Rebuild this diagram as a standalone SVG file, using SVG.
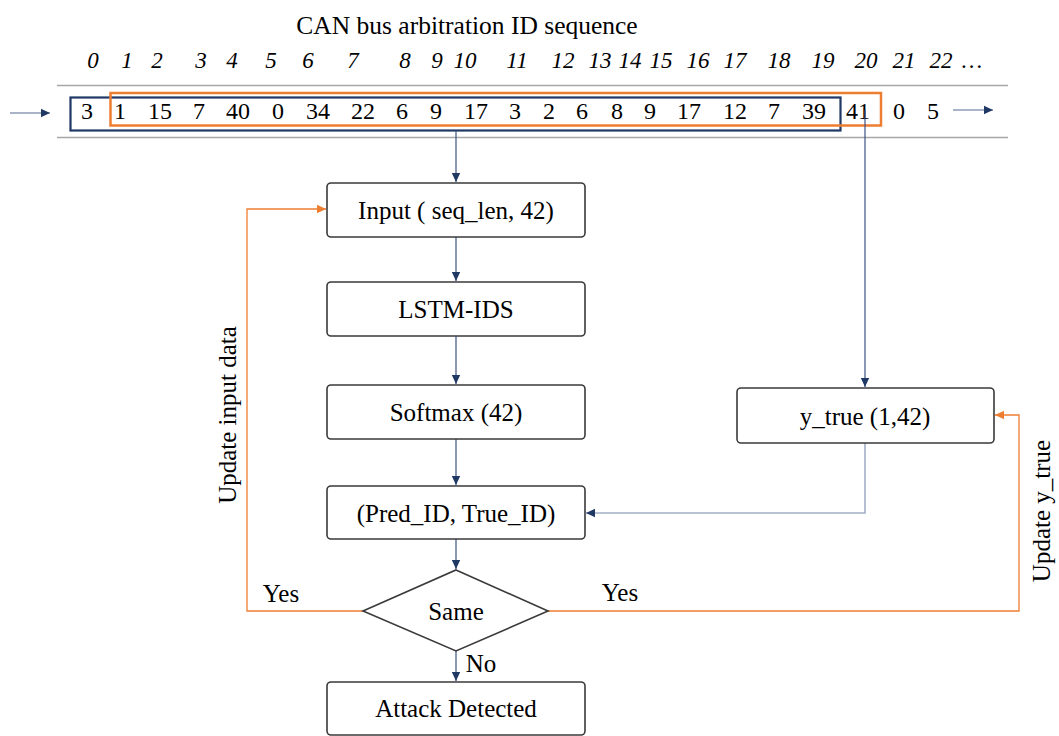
<svg xmlns="http://www.w3.org/2000/svg" width="1059" height="736" viewBox="0 0 1059 736">
<style>
text{font-family:"Liberation Serif","Times New Roman",serif;fill:#000}
.idx{font-size:23px;font-style:italic;text-anchor:middle}
.num{font-size:24px;text-anchor:middle}
.lbl{font-size:25px;text-anchor:middle}
.box{fill:#fff;stroke:#3a3a3a;stroke-width:1.6}
.nav{stroke:#3b5383;stroke-width:1.2;fill:none}
.org{stroke:#ed7d31;stroke-width:1.3;fill:none}
</style>
<defs>
<marker id="an" markerWidth="10" markerHeight="10" refX="9" refY="5" orient="auto" markerUnits="userSpaceOnUse"><path d="M0,0.8 L9,5 L0,9.2 Z" fill="#1f3864"/></marker>
<marker id="ao" markerWidth="10" markerHeight="10" refX="9" refY="5" orient="auto" markerUnits="userSpaceOnUse"><path d="M0,0.8 L9,5 L0,9.2 Z" fill="#ed7d31"/></marker>
</defs>
<rect width="1059" height="736" fill="#fff"/>
<g id="sequence">
<text x="467" y="34" font-size="25.5" text-anchor="middle">CAN bus arbitration ID sequence</text>
<g class="idx">
<text x="93" y="68">0</text><text x="127" y="68">1</text><text x="157" y="68">2</text><text x="201" y="68">3</text><text x="232" y="68">4</text><text x="271" y="68">5</text><text x="308" y="68">6</text><text x="353" y="68">7</text><text x="405" y="68">8</text><text x="437" y="68">9</text><text x="465" y="68">10</text><text x="517" y="68">11</text><text x="563" y="68">12</text><text x="600" y="68">13</text><text x="630" y="68">14</text><text x="661" y="68">15</text><text x="698" y="68">16</text><text x="735" y="68">17</text><text x="779" y="68">18</text><text x="823" y="68">19</text><text x="866" y="68">20</text><text x="904" y="68">21</text><text x="941" y="68">22</text><text x="972" y="68">…</text>
</g>
<line x1="57" y1="85.5" x2="1008" y2="85.5" stroke="#a6a6a6" stroke-width="1.5"/>
<line x1="57" y1="137.5" x2="1008" y2="137.5" stroke="#a6a6a6" stroke-width="1.5"/>
<rect x="70.5" y="97.5" width="770" height="33" fill="none" stroke="#1f3864" stroke-width="2.2"/>
<rect x="110.5" y="93" width="770.5" height="32.5" fill="none" stroke="#ed7d31" stroke-width="2.5"/>
<g class="num">
<text x="87" y="119">3</text><text x="120" y="119">1</text><text x="160" y="119">15</text><text x="199" y="119">7</text><text x="238" y="119">40</text><text x="278" y="119">0</text><text x="318" y="119">34</text><text x="363" y="119">22</text><text x="402" y="119">6</text><text x="436" y="119">9</text><text x="476" y="119">17</text><text x="515" y="119">3</text><text x="549" y="119">2</text><text x="582" y="119">6</text><text x="617" y="119">8</text><text x="650" y="119">9</text><text x="689" y="119">17</text><text x="735" y="119">12</text><text x="774" y="119">7</text><text x="814" y="119">39</text><text x="858" y="119">41</text><text x="899" y="119">0</text><text x="933" y="119">5</text>
</g>
</g>
<g id="connectors">
<line x1="10" y1="113" x2="50" y2="113" stroke="#8d9bb6" stroke-width="1.4" marker-end="url(#an)"/>
<line x1="953" y1="110" x2="993" y2="110" stroke="#8d9bb6" stroke-width="1.4" marker-end="url(#an)"/>
<line class="nav" x1="456" y1="131" x2="456" y2="182" marker-end="url(#an)"/>
<line class="nav" x1="456" y1="237" x2="456" y2="281" marker-end="url(#an)"/>
<line class="nav" x1="456" y1="336" x2="456" y2="384" marker-end="url(#an)"/>
<line class="nav" x1="456" y1="439" x2="456" y2="485" marker-end="url(#an)"/>
<line class="nav" x1="456" y1="539" x2="456" y2="569" marker-end="url(#an)"/>
<line class="nav" x1="456" y1="651" x2="456" y2="681" marker-end="url(#an)"/>
<line class="nav" x1="865" y1="110" x2="865" y2="387" marker-end="url(#an)"/>
<polyline points="865,443 865,513 586,513" fill="none" stroke="#a3afc5" stroke-width="1.6" marker-end="url(#an)"/>
<polyline class="org" points="363,611 247,611 247,209 326,209" marker-end="url(#ao)"/>
<polyline class="org" points="548,611 1019,611 1019,415 995,415" marker-end="url(#ao)"/>
<text x="281" y="602" class="lbl">Yes</text>
<text x="620" y="601" class="lbl">Yes</text>
<text x="481" y="672" class="lbl">No</text>
<text class="lbl" transform="translate(236,415) rotate(-90)">Update input data</text>
<text class="lbl" transform="translate(1050,511) rotate(-90)">Update y_true</text>
</g>
<g id="input"><rect class="box" x="327" y="183" width="258" height="54" rx="4"/><text class="lbl" x="456" y="219">Input ( seq_len, 42)</text></g>
<g id="lstm"><rect class="box" x="327" y="282" width="258" height="54" rx="4"/><text class="lbl" x="456" y="318">LSTM-IDS</text></g>
<g id="softmax"><rect class="box" x="327" y="385" width="258" height="54" rx="4"/><text class="lbl" x="456" y="421">Softmax (42)</text></g>
<g id="pred"><rect class="box" x="327" y="486" width="258" height="53" rx="4"/><text class="lbl" x="456" y="522">(Pred_ID, True_ID)</text></g>
<g id="same"><polygon class="box" points="456,570 548,611 456,651 363,611"/><text class="lbl" x="456" y="620">Same</text></g>
<g id="attack"><rect class="box" x="327" y="682" width="258" height="53" rx="4"/><text class="lbl" x="456" y="717">Attack Detected</text></g>
<g id="ytrue"><rect class="box" x="737" y="388" width="257" height="55" rx="4"/><text class="lbl" x="865" y="425">y_true (1,42)</text></g>
</svg>
